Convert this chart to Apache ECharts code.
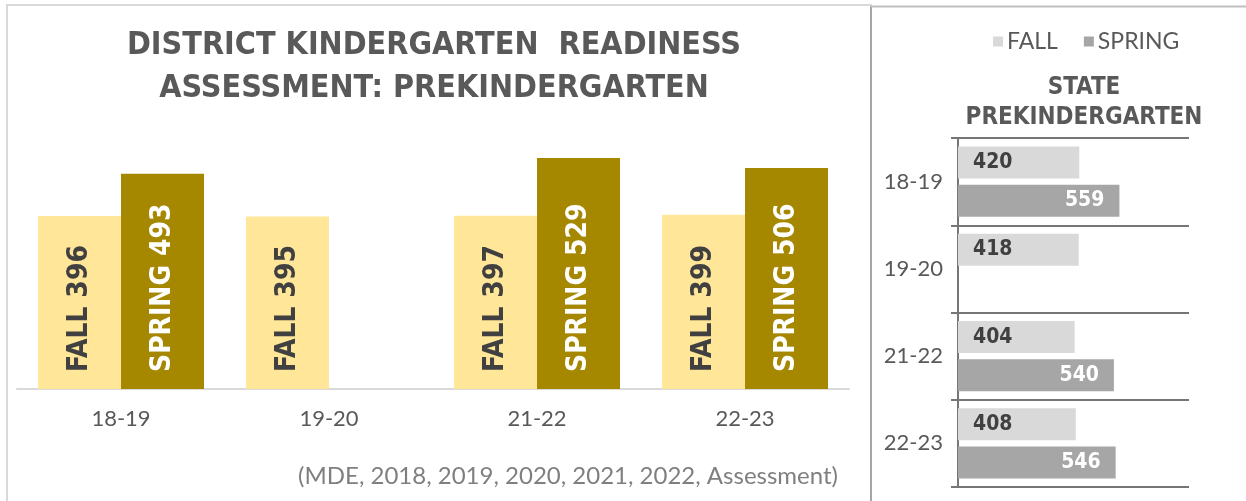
<!DOCTYPE html>
<html lang="en">

<head>
  <meta charset="UTF-8">
  <style>
    body {
      margin: 0;
    }

    #chart {
      width: 1246px;
      height: 501px;
    }
  </style>
  <title>Kindergarten Readiness</title>
</head>

<body>
  <div id="chart"></div>
  <script src="https://cdn.jsdelivr.net/npm/echarts@6/dist/echarts.min.js"></script>
  <script>
    // district chart (left)
    var years = ['18-19', '19-20', '21-22', '22-23']
    var districtFall = [396, 395, 397, 399]
    var districtSpring = [493, null, 529, 506]
    // state chart (right)
    var stateFall = [420, 418, 404, 408]
    var stateSpring = [559, null, 540, 546]

    var titleFont = '"DejaVu Sans Condensed", "DejaVu Sans", sans-serif'
    var thinFont = 'Lato, "Open Sans", sans-serif'
    var darkText = '#595959'

    var chart = echarts.init(document.getElementById('chart'))

    var option = {
      animation: false,
      backgroundColor: '#fff',
      graphic: [
        // panel borders
        { type: 'line', shape: { x1: 6, y1: 5, x2: 872, y2: 5 }, style: { stroke: '#d9d9d9', lineWidth: 2 } },
        { type: 'line', shape: { x1: 7, y1: 5, x2: 7, y2: 501 }, style: { stroke: '#d9d9d9', lineWidth: 2 } },
        { type: 'line', shape: { x1: 871, y1: 6, x2: 871, y2: 501 }, style: { stroke: '#a6a6a6', lineWidth: 2 } },
        { type: 'line', shape: { x1: 871, y1: 6.5, x2: 1246, y2: 6.5 }, style: { stroke: '#bfbfbf', lineWidth: 2 } },
        {
          type: 'text', x: 434, y: 24,
          style: {
            text: 'DISTRICT KINDERGARTEN  READINESS\nASSESSMENT: PREKINDERGARTEN',
            fill: darkText, font: 'bold 32px ' + titleFont, align: 'center', lineHeight: 43
          }
        },
        {
          type: 'text', x: 1084, y: 73,
          style: {
            text: 'STATE\nPREKINDERGARTEN',
            fill: darkText, font: 'bold 24px ' + titleFont, align: 'center', lineHeight: 30
          }
        },
        {
          type: 'text', x: 838, y: 476,
          style: {
            text: '(MDE, 2018, 2019, 2020, 2021, 2022, Assessment)',
            fill: '#7f7f7f', font: '24px ' + thinFont, align: 'right', verticalAlign: 'middle'
          }
        }
      ],
      legend: {
        data: ['FALL', 'SPRING'],
        left: 988,
        top: 25,
        icon: 'rect',
        itemWidth: 10,
        itemHeight: 10,
        itemGap: 26,
        textStyle: { color: darkText, fontSize: 23, fontFamily: thinFont, padding: [0, 0, 0, -1] }
      },
      grid: [
        { left: 17, right: 397, top: 127, bottom: 112 },
        { left: 958, right: 57, top: 138, bottom: 14 }
      ],
      xAxis: [
        {
          type: 'category',
          gridIndex: 0,
          data: years,
          axisLine: { lineStyle: { color: '#d9d9d9', width: 2 } },
          axisTick: { show: false },
          axisLabel: { color: darkText, fontSize: 22, fontFamily: thinFont, margin: 19 }
        },
        {
          type: 'value',
          gridIndex: 1,
          min: 0,
          max: 800,
          show: false,
          splitLine: { show: false }
        }
      ],
      yAxis: [
        {
          type: 'value',
          gridIndex: 0,
          min: 0,
          max: 600,
          show: false,
          splitLine: { show: false }
        },
        {
          type: 'category',
          gridIndex: 1,
          data: years,
          inverse: true,
          axisLine: { lineStyle: { color: '#767676', width: 2 } },
          axisTick: { show: true, length: 7, lineStyle: { color: '#767676', width: 2 } },
          splitLine: { show: true, lineStyle: { color: '#767676', width: 2 } },
          axisLabel: { color: darkText, fontSize: 22, fontFamily: thinFont, margin: 15 }
        }
      ],
      series: [
        {
          name: 'District Fall',
          type: 'bar',
          xAxisIndex: 0,
          yAxisIndex: 0,
          data: districtFall,
          barWidth: 83,
          barGap: '0%',
          itemStyle: { color: '#ffe699' },
          label: {
            show: true,
            position: 'insideBottom',
            rotate: 90,
            align: 'left',
            verticalAlign: 'middle',
            distance: 17,
            formatter: 'FALL {c}',
            color: '#404040',
            fontSize: 28,
            fontWeight: 'bold',
            fontFamily: titleFont
          }
        },
        {
          name: 'District Spring',
          type: 'bar',
          xAxisIndex: 0,
          yAxisIndex: 0,
          data: districtSpring,
          barWidth: 83,
          barGap: '0%',
          itemStyle: { color: '#a58700' },
          label: {
            show: true,
            position: 'insideBottom',
            rotate: 90,
            align: 'left',
            verticalAlign: 'middle',
            distance: 17,
            formatter: 'SPRING {c}',
            color: '#fff',
            fontSize: 28,
            fontWeight: 'bold',
            fontFamily: titleFont
          }
        },
        {
          name: 'FALL',
          type: 'bar',
          xAxisIndex: 1,
          yAxisIndex: 1,
          data: stateFall,
          barWidth: 32,
          barGap: '19%',
          itemStyle: { color: '#d9d9d9' },
          label: {
            show: true,
            position: 'insideLeft',
            distance: 15,
            color: '#404040',
            fontSize: 21,
            fontWeight: 'bold',
            fontFamily: titleFont
          }
        },
        {
          name: 'SPRING',
          type: 'bar',
          xAxisIndex: 1,
          yAxisIndex: 1,
          data: stateSpring,
          barWidth: 32,
          barGap: '19%',
          itemStyle: { color: '#a6a6a6' },
          label: {
            show: true,
            position: 'insideRight',
            distance: 15,
            color: '#fff',
            fontSize: 21,
            fontWeight: 'bold',
            fontFamily: titleFont
          }
        }
      ]
    }

    chart.setOption(option)
  </script>
</body>

</html>
